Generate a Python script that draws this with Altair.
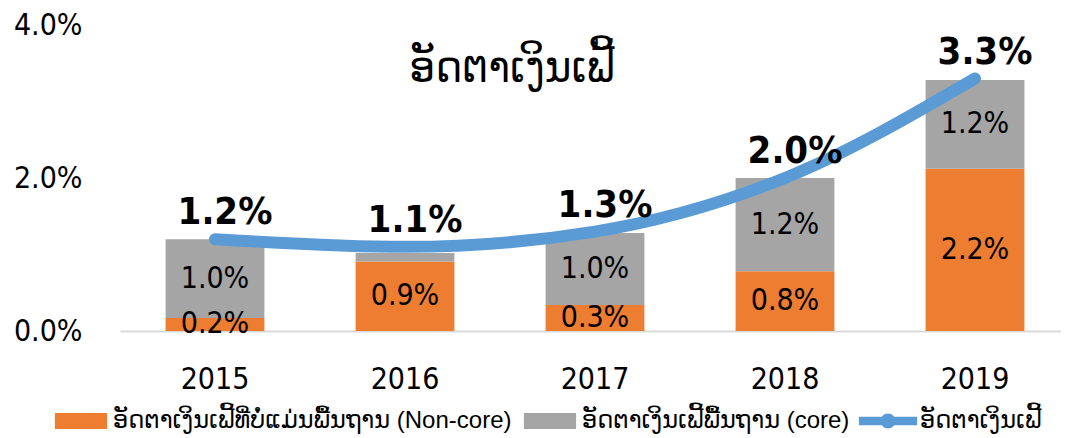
import altair as alt
import pandas as pd

years = ["2015", "2016", "2017", "2018", "2019"]
noncore = [0.17, 0.91, 0.34, 0.78, 2.12]
core = [1.03, 0.11, 0.94, 1.22, 1.16]
noncore_labels = ["0.2%", "0.9%", "0.3%", "0.8%", "2.2%"]
core_labels = ["1.0%", "", "1.0%", "1.2%", "1.2%"]
total = [1.2, 1.1, 1.3, 2.0, 3.3]
total_labels = ["1.2%", "1.1%", "1.3%", "2.0%", "3.3%"]
chart_title = ["ອັດຕາເງິນເຟີ້"]

s_noncore = "ອັດຕາເງິນເຟີ້ທີ່ບໍ່ແມ່ນພື້ນຖານ (Non-core)"
s_core = "ອັດຕາເງິນເຟີ້ພື້ນຖານ (core)"
s_total = "ອັດຕາເງິນເຟີ້"
series_names = [s_noncore, s_core, s_total]
colors = ["#ED7D31", "#A5A5A5", "#5B9BD5"]

FONT = "DejaVu Sans Condensed, DejaVu Sans"
LEG_FONT = "Liberation Sans, DejaVu Sans"

rows = []
for i, y in enumerate(years):
    rows.append(dict(year=y, series=s_noncore, start=0.0, end=noncore[i],
                     mid=noncore[i] / 2, label=noncore_labels[i]))
    rows.append(dict(year=y, series=s_core, start=noncore[i], end=noncore[i] + core[i],
                     mid=noncore[i] + core[i] / 2, label=core_labels[i]))
df_bars = pd.DataFrame(rows)
df_line = pd.DataFrame(dict(year=years, total=total, tlabel=total_labels))
df_leg = pd.DataFrame(dict(series=series_names, year=[years[0]] * 3, v=[0.0] * 3))
df_title = pd.DataFrame(dict(t=chart_title))

rect_path = "M-0.87,-0.27L0.87,-0.27L0.87,0.27L-0.87,0.27Z"
line_path = ("M-0.97,-0.14L0.97,-0.14L0.97,0.14L-0.97,0.14Z "
             "M0.25,0A0.25,0.25 0 1 1 -0.25,0A0.25,0.25 0 1 1 0.25,0Z")

yscale = alt.Scale(domain=[0, 4], nice=False, zero=True)
xscale = alt.Scale(domain=years, range=[0, 950], paddingInner=0.48, paddingOuter=0.24)
xenc = alt.X("year:N", sort=years, scale=xscale,
             axis=alt.Axis(title=None, labelAngle=0, ticks=False, labelFontSize=30,
                           labelFont=FONT, labelColor="#000000", labelPadding=33,
                           domainColor="#D9D9D9", domainWidth=2, grid=False))
yaxis = alt.Axis(title=None, values=[0, 2, 4], labelExpr="format(datum.value, '.1f') + '%'",
                 ticks=False, domain=False, grid=False, labelFontSize=30, labelFont=FONT,
                 labelColor="#000000", labelPadding=38)

leg = dict(title=None, orient="none", legendX=-69, legendY=366, direction="horizontal",
           symbolSize=3600, labelFontSize=24, labelFont=LEG_FONT, labelColor="#000000",
           labelLimit=1000, columnPadding=8, labelOffset=2, padding=0,
           symbolStrokeWidth=0, symbolOpacity=1)

bars = alt.Chart(df_bars).mark_bar().encode(
    x=xenc,
    y=alt.Y("start:Q", scale=yscale, axis=yaxis),
    y2="end:Q",
    fill=alt.Fill("series:N", scale=alt.Scale(domain=series_names[:2], range=colors[:2]),
                  legend=None),
)

seg_labels = alt.Chart(df_bars).mark_text(fontSize=30, font=FONT, color="#000000",
                                          baseline="middle").encode(
    x=alt.X("year:N", sort=years),
    y=alt.Y("mid:Q"),
    text="label:N",
)

line = alt.Chart(df_line).mark_line(interpolate="monotone", strokeWidth=12,
                                    strokeCap="round", color="#5B9BD5").encode(
    x=alt.X("year:N", sort=years),
    y=alt.Y("total:Q"),
)

line_labels = alt.Chart(df_line).mark_text(fontSize=38, fontWeight="bold", font=FONT,
                                           color="#000000", baseline="alphabetic",
                                           dy=-15, dx=10).encode(
    x=alt.X("year:N", sort=years),
    y=alt.Y("total:Q"),
    text="tlabel:N",
)

title_text = alt.Chart(df_title).mark_text(fontSize=45, font=FONT, color="#000000",
                                           align="center", baseline="alphabetic").encode(
    x=alt.value(392), y=alt.value(57), text="t:N",
)

legend_layer = alt.Chart(df_leg).mark_point(filled=True, size=0).encode(
    x=alt.X("year:N", sort=years),
    y=alt.Y("v:Q"),
    color=alt.Color("series:N", scale=alt.Scale(domain=series_names, range=colors),
                    legend=alt.Legend(**leg)),
    shape=alt.Shape("series:N", scale=alt.Scale(domain=series_names,
                                                range=[rect_path, rect_path, line_path]),
                    legend=alt.Legend(**leg)),
)

chart = alt.layer(bars, seg_labels, line, line_labels, title_text, legend_layer).properties(
    width=941, height=306,
    background="white",
    autosize=alt.AutoSizeParams(type="none"),
    padding={"left": 112, "top": 17, "right": 0, "bottom": 107},
).configure_view(strokeWidth=0, stroke=None)

chart.save("out.html", embed_options={"renderer": "svg", "actions": False})
